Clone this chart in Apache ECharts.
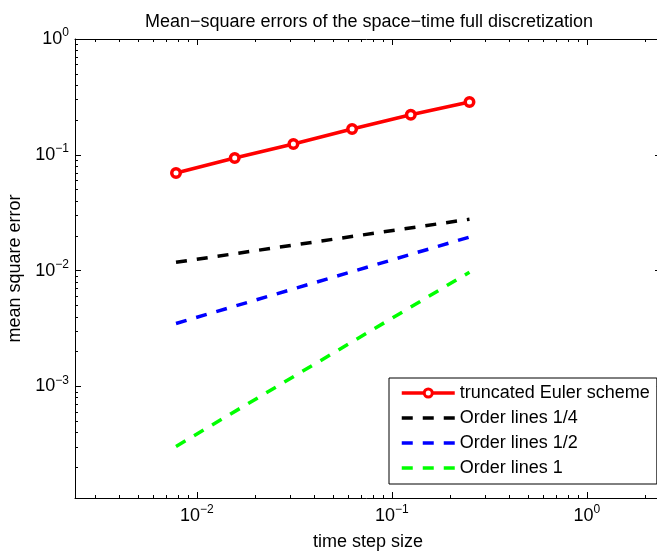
<!DOCTYPE html>
<html>
<head>
<meta charset="utf-8">
<script src="https://cdn.jsdelivr.net/npm/echarts@6/dist/echarts.min.js"></script>
<style>
  html, body { margin: 0; padding: 0; background: #fff; }
  #chart { width: 657px; height: 554px; }
</style>
</head>
<body>
<div id="chart"></div>
<script>
// time step sizes (2^-7 .. 2^-2)
var steps = [0.0078125, 0.015625, 0.03125, 0.0625, 0.125, 0.25];
// mean square errors of the truncated Euler scheme
var errEuler = [0.0697, 0.0938, 0.124, 0.167, 0.222, 0.286];
// reference order lines (end points)
var orderX = [0.0078125, 0.25];
var order14 = [0.0118, 0.0278];
var order12 = [0.0035, 0.0195];
var order1 = [0.000304, 0.0097];

var xMin = 0.00237, xMax = 2.4;
var yMin = 0.000109, yMax = 1;

// minor tick positions (2..9 per decade)
function minors(lo, hi) {
  var out = [];
  for (var e = -5; e <= 1; e++) {
    for (var k = 2; k <= 9; k++) {
      var v = k * Math.pow(10, e);
      if (v > lo && v < hi) out.push(v);
    }
  }
  return out;
}
var xMinor = minors(xMin, xMax);
var yMinor = minors(yMin, yMax);

function pow10Label(v) {
  var l = Math.log10(v);
  var e = Math.round(l);
  if (Math.abs(l - e) > 1e-6) return '';
  return '{b|10}{s|' + (e < 0 ? '\u2212' + (-e) : e) + '}';
}

var font = '"Liberation Sans", Arial, sans-serif';
var richLab = {
  b: { fontSize: 18, fontFamily: font, color: '#000' },
  s: { fontSize: 12, fontFamily: font, color: '#000', padding: [0, 0, 12, 0] }
};

function mkX(pos, main) {
  return {
    type: 'log', logBase: 10, min: xMin, max: xMax, gridIndex: 0, position: pos,
    axisLine: { show: true, onZero: false, lineStyle: { color: '#000', width: 1 } },
    axisTick: { show: true, inside: true, length: 6, lineStyle: { color: '#000' } },
    minorTick: { show: false },
    splitLine: { show: false },
    axisLabel: main ? { show: true, margin: 6, formatter: pow10Label, rich: richLab } : { show: false },
    name: main ? 'time step size' : '',
    nameLocation: 'middle', nameGap: 35,
    nameTextStyle: { fontSize: 18, fontFamily: font, color: '#000' }
  };
}
function mkXMinor(pos) {
  return {
    type: 'log', logBase: 10, min: xMin, max: xMax, gridIndex: 0, position: pos,
    axisLine: { show: false },
    axisTick: { show: true, inside: true, length: 3, customValues: xMinor, lineStyle: { color: '#000' } },
    splitLine: { show: false },
    axisLabel: { show: false }
  };
}
function mkY(pos, main) {
  return {
    type: 'log', logBase: 10, min: yMin, max: yMax, gridIndex: 0, position: pos,
    axisLine: { show: true, onZero: false, lineStyle: { color: '#000', width: 1 } },
    axisTick: { show: true, inside: true, length: 6, lineStyle: { color: '#000' } },
    minorTick: { show: false },
    splitLine: { show: false },
    axisLabel: main ? { show: true, margin: 6, formatter: pow10Label, rich: richLab } : { show: false },
    name: main ? 'mean square error' : '',
    nameLocation: 'middle', nameGap: 47,
    nameTextStyle: { fontSize: 18, fontFamily: font, color: '#000' }
  };
}
function mkYMinor(pos) {
  return {
    type: 'log', logBase: 10, min: yMin, max: yMax, gridIndex: 0, position: pos,
    axisLine: { show: false },
    axisTick: { show: true, inside: true, length: 3, customValues: yMinor, lineStyle: { color: '#000' } },
    splitLine: { show: false },
    axisLabel: { show: false }
  };
}

function pairs(xs, ys) {
  return xs.map(function (x, i) { return [x, ys[i]]; });
}

var chart = echarts.init(document.getElementById('chart'), null, { renderer: 'canvas' });
var option = {
  backgroundColor: '#fff',
  animation: false,
  title: {
    text: 'Mean\u2212square errors of the space\u2212time full discretization',
    left: 364, top: 8, textAlign: 'center',
    textStyle: { fontSize: 18, fontWeight: 'normal', fontFamily: font, color: '#000' }
  },
  grid: { left: 75, top: 39, width: 586, height: 459, outerBoundsMode: 'none' },
  xAxis: [mkX('bottom', true), mkX('top', false), mkXMinor('bottom'), mkXMinor('top')],
  yAxis: [mkY('left', true), mkY('right', false), mkYMinor('left'), mkYMinor('right')],
  legend: {
    left: 389, top: 378, orient: 'vertical',
    padding: [5, 7, 6, 11],
    itemWidth: 53, itemHeight: 10, itemGap: 5,
    borderColor: '#000', borderWidth: 1, backgroundColor: '#fff', borderRadius: 0,
    lineStyle: { width: 3.5 },
    itemStyle: { borderWidth: 3 },
    textStyle: { fontSize: 18, fontFamily: font, color: '#000', lineHeight: 20 },
    data: [
      { name: 'truncated Euler scheme' },
      { name: 'Order lines 1/4', itemStyle: { opacity: 0 } },
      { name: 'Order lines 1/2', itemStyle: { opacity: 0 } },
      { name: 'Order lines 1', itemStyle: { opacity: 0 } }
    ]
  },
  series: [
    {
      name: 'truncated Euler scheme', type: 'line', xAxisIndex: 0, yAxisIndex: 0,
      data: pairs(steps, errEuler),
      symbol: 'circle', symbolSize: 8.5,
      lineStyle: { color: '#ff0000', width: 3.5 },
      itemStyle: { color: '#ffffff', borderColor: '#ff0000', borderWidth: 3.5 }
    },
    {
      name: 'Order lines 1/4', type: 'line', xAxisIndex: 0, yAxisIndex: 0,
      data: pairs(orderX, order14), symbol: 'none',
      lineStyle: { color: '#000000', width: 3.5, type: [11, 10] },
      itemStyle: { color: '#000000' }
    },
    {
      name: 'Order lines 1/2', type: 'line', xAxisIndex: 0, yAxisIndex: 0,
      data: pairs(orderX, order12), symbol: 'none',
      lineStyle: { color: '#0000ff', width: 3.5, type: [11, 10] },
      itemStyle: { color: '#0000ff' }
    },
    {
      name: 'Order lines 1', type: 'line', xAxisIndex: 0, yAxisIndex: 0,
      data: pairs(orderX, order1), symbol: 'none',
      lineStyle: { color: '#00ff00', width: 3.5, type: [11, 10] },
      itemStyle: { color: '#00ff00' }
    }
  ]
};
chart.setOption(option);
</script>
</body>
</html>
